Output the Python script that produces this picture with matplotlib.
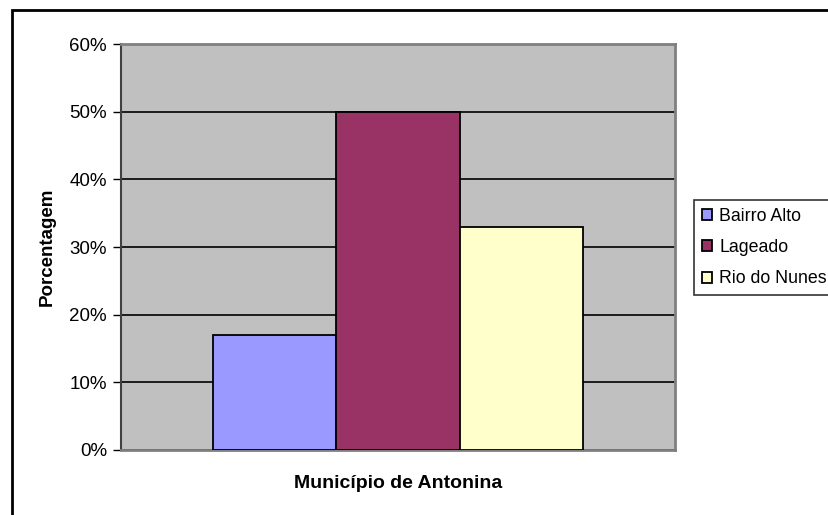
import matplotlib
matplotlib.use("Agg")
import matplotlib.pyplot as plt
from matplotlib.patches import Rectangle
from matplotlib.ticker import FuncFormatter, MultipleLocator

plt.rcParams['font.family'] = ['Liberation Sans', 'DejaVu Sans']

# Data
category = "Município de Antonina"
series = ["Bairro Alto", "Lageado", "Rio do Nunes"]
values = [17, 50, 33]
colors = ["#9999FF", "#993366", "#FFFFCC"]

W, H = 829, 515
fig = plt.figure(figsize=(W / 100, H / 100), dpi=100)

# Outer chart frame
fig.patches.append(Rectangle((12 / W, -0.05), 1.0, (H - 10) / H + 0.05,
                             transform=fig.transFigure, fill=False,
                             edgecolor="black", linewidth=2, zorder=0))

ax = fig.add_axes([121 / W, (H - 450) / H, (675 - 121) / W, (450 - 44) / H])
ax.set_facecolor("#C0C0C0")

bar_w = 0.2227
for i, (name, v, c) in enumerate(zip(series, values, colors)):
    ax.bar((i - 1) * bar_w, v, width=bar_w, color=c, edgecolor="black",
           linewidth=1.3, label=name, zorder=3)

ax.set_xlim(-0.5, 0.5)
ax.set_ylim(0, 60)
ax.yaxis.set_major_locator(MultipleLocator(10))
ax.yaxis.set_major_formatter(FuncFormatter(lambda y, _: f"{int(y)}%"))
ax.set_xticks([])
ax.grid(axis="y", color="black", linewidth=1.2, zorder=1)
ax.set_axisbelow(True)

for side in ["top", "right", "bottom"]:
    ax.spines[side].set_color("#808080")
    ax.spines[side].set_linewidth(2)
ax.spines["left"].set_color("#404040")
ax.spines["left"].set_linewidth(1.5)

ax.tick_params(axis="y", direction="out", length=6, width=1, color="black",
               labelsize=13.5, pad=4)

ax.set_xlabel(category, fontsize=14, fontweight="bold", labelpad=18)
ax.set_ylabel("Porcentagem", fontsize=13.5, fontweight="bold", labelpad=10)

leg = fig.legend(loc="upper left", bbox_to_anchor=(694 / W, 1 - 200 / H),
                 frameon=True, fancybox=False, edgecolor="black",
                 fontsize=12.8, handlelength=0.58, handleheight=0.58,
                 handletextpad=0.4, labelspacing=0.8, borderpad=0.45,
                 borderaxespad=0)
leg.get_frame().set_linewidth(1.2)

fig.savefig("out.png", dpi=100)
